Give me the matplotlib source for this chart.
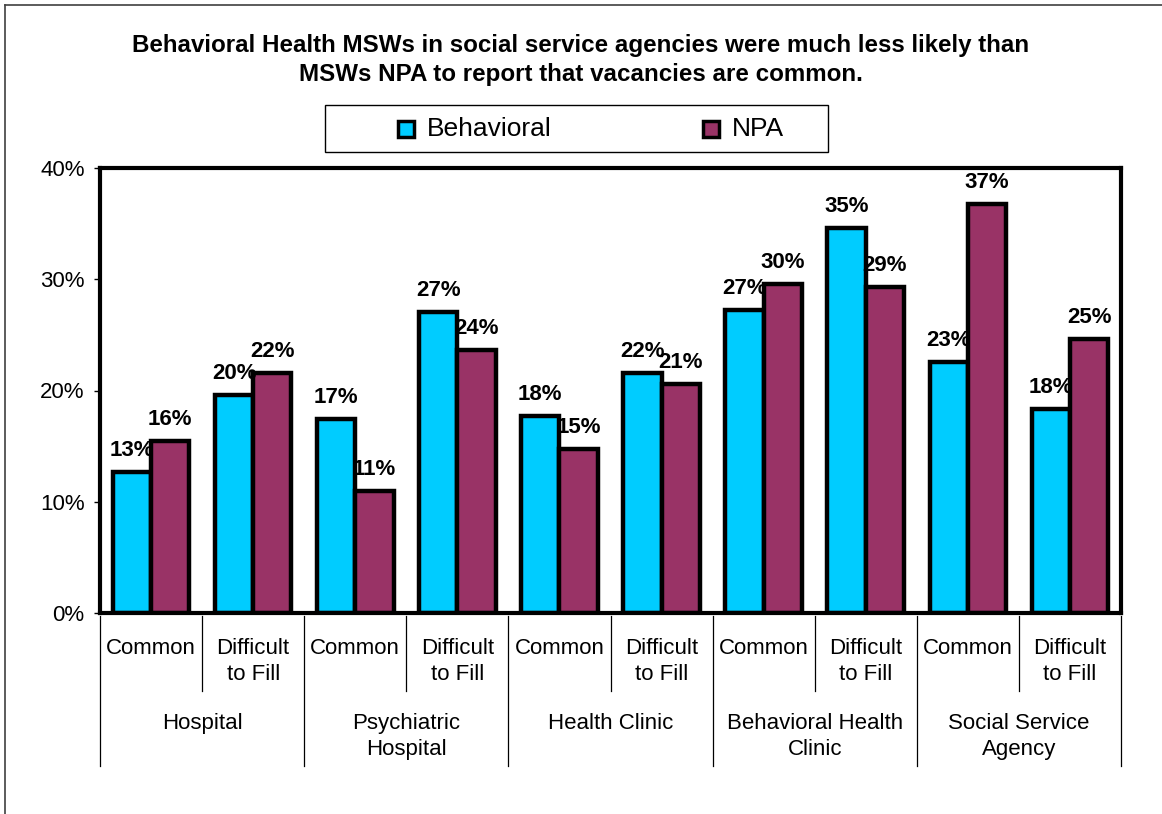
import matplotlib
matplotlib.use("Agg")
import matplotlib.pyplot as plt
from matplotlib.patches import Rectangle
from matplotlib.lines import Line2D
import numpy as np

plt.rcParams['font.family'] = ['Liberation Sans', 'DejaVu Sans']

# data (percent)
groups = ["Hospital", "Psychiatric\nHospital", "Health Clinic",
          "Behavioral Health\nClinic", "Social Service\nAgency"]
subcats = ["Common", "Difficult\nto Fill"]
behavioral = [12.7, 19.6, 17.4, 27.1, 17.7, 21.6, 27.2, 34.6, 22.6, 18.3]
npa = [15.5, 21.6, 11.0, 23.6, 14.7, 20.6, 29.6, 29.3, 36.8, 24.6]
series_names = ["Behavioral", "NPA"]
yticks = [0, 10, 20, 30, 40]

title = ("Behavioral Health MSWs in social service agencies were much less likely than\n"
         "MSWs NPA to report that vacancies are common.")

blue = "#00CCFF"
plum = "#993366"

W, H = 1162, 814
fig = plt.figure(figsize=(W / 100, H / 100), dpi=100)

# outer chart frame (cropped at right/bottom in the original)
fig.add_artist(Line2D([5 / W, 1.0], [1 - 5 / H, 1 - 5 / H], color="#404040", lw=1.2))
fig.add_artist(Line2D([5 / W, 5 / W], [0.0, 1 - 5 / H], color="#404040", lw=1.2))

ax = fig.add_axes([100 / W, 1 - 613 / H, 1021 / W, 445 / H])

n = len(behavioral)
x = np.arange(n)
bw = 0.375
b1 = ax.bar(x - bw / 2, behavioral, bw, color=blue, edgecolor="black", linewidth=3.2)
b2 = ax.bar(x + bw / 2, npa, bw, color=plum, edgecolor="black", linewidth=3.2)

for bars, vals in [(b1, behavioral), (b2, npa)]:
    for rect, v in zip(bars, vals):
        ax.annotate(f"{v:.0f}%", (rect.get_x() + rect.get_width() / 2, v),
                    xytext=(0, 11.5), textcoords="offset points",
                    ha="center", va="baseline", fontsize=16, fontweight="bold")

ax.set_xlim(-0.5, n - 0.5)
ax.set_ylim(0, 40)
ax.set_yticks(yticks)
ax.set_yticklabels([f"{t}%" for t in yticks], fontsize=16)
ax.tick_params(axis="y", length=4, width=1, pad=7)
ax.set_xticks([])
for s in ax.spines.values():
    s.set_linewidth(3)
    s.set_color("black")

# multi-level category axis
tr = ax.get_xaxis_transform()
def ay(px):
    return -(px - 613) / 445

for i in range(n + 1):
    xb = i - 0.5
    bottom = 765.7 if i % 2 == 0 else 690.7
    ax.plot([xb, xb], [ay(616), ay(bottom)], transform=tr, color="black",
            lw=0.9, clip_on=False)

for i in range(n):
    ax.text(i, ay(638), subcats[i % 2], transform=tr, ha="center", va="top",
            fontsize=16, linespacing=1.3)

for g, name in enumerate(groups):
    ax.text(2 * g + 0.5, ay(713), name, transform=tr, ha="center", va="top",
            fontsize=16, linespacing=1.3)

fig.text(0.5, 1 - 60 / H, title, ha="center", va="center", fontsize=17.4,
         fontweight="bold", linespacing=1.38)

# legend box
fig.add_artist(Rectangle((325 / W, 1 - 152 / H), 503 / W, 47 / H,
                         transform=fig.transFigure, fill=False,
                         edgecolor="black", lw=1))
for name, col, lx in [(series_names[0], blue, 398), (series_names[1], plum, 703)]:
    fig.add_artist(Rectangle((lx / W, 1 - 137 / H), 16 / W, 16 / H,
                             transform=fig.transFigure, facecolor=col,
                             edgecolor="black", lw=2.5))
    fig.text((lx + 29) / W, 1 - 129 / H, name, ha="left", va="center", fontsize=19)

fig.savefig("out.png", dpi=100)
